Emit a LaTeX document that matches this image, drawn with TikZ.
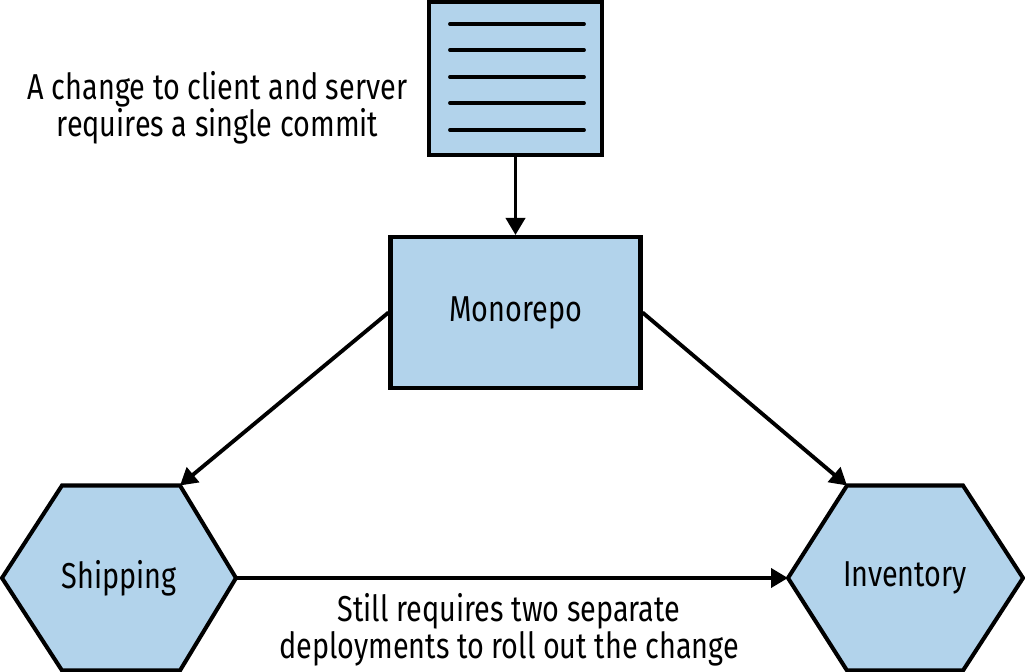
\documentclass[tikz,border=0pt]{standalone}
\usepackage{fontspec}
\setmainfont[FakeStretch=0.8]{Fira Sans}
\usetikzlibrary{arrows.meta}
\definecolor{boxblue}{RGB}{178,211,235}

\begin{document}
\begin{tikzpicture}[
  box/.style={draw, fill=boxblue, line width=2.3pt},
  arr/.style={-{Triangle[length=0.34cm, width=0.38cm]}, line width=2.2pt},
  font=\fontsize{20.5}{21}\selectfont
]
  \useasboundingbox (0, 0) rectangle (20.5, 13.42);
  % the commit
  \node[box, minimum width=3.46cm, minimum height=3.06cm] (commit) at (10.31, 11.85) {};
  \foreach \y in {12.94, 12.42, 11.88, 11.36, 10.82}
    \draw[line width=2.2pt, line cap=round] (9.0, \y) -- (11.68, \y);
  \node[align=center] (commit-note) at (4.35, 11.26) {A change to client and server\\requires a single commit};
  % the repository
  \node[box, minimum width=5cm, minimum height=3.02cm] (mono) at (10.31, 7.17) {Monorepo};
  % the two services
  \draw[box] (0.04, 1.86) coordinate (ship-w) -- (1.24, 3.71) -- (3.6, 3.71) coordinate (ship-ne)
    -- (4.72, 1.86) coordinate (ship-e) -- (3.6, 0.01) -- (1.24, 0.01) -- cycle;
  \node (ship) at (2.38, 1.86) {Shipping};
  \draw[box] (15.76, 1.86) coordinate (inv-w) -- (16.94, 3.71) coordinate (inv-nw) -- (19.26, 3.71)
    -- (20.46, 1.86) coordinate (inv-e) -- (19.26, 0.01) -- (16.94, 0.01) -- cycle;
  \node (inv) at (18.1, 1.86) {Inventory};
  \node[align=center] (deploy-note) at (10.18, 0.82) {Still requires two separate\\deployments to roll out the change};
  % connectors
  \draw[arr] (commit.south) -- (mono.north);
  \draw[arr] (mono.west) -- (ship-ne);
  \draw[arr] (mono.east) -- (inv-nw);
  \draw[arr] (ship-e) -- (inv-w);
\end{tikzpicture}
\end{document}
